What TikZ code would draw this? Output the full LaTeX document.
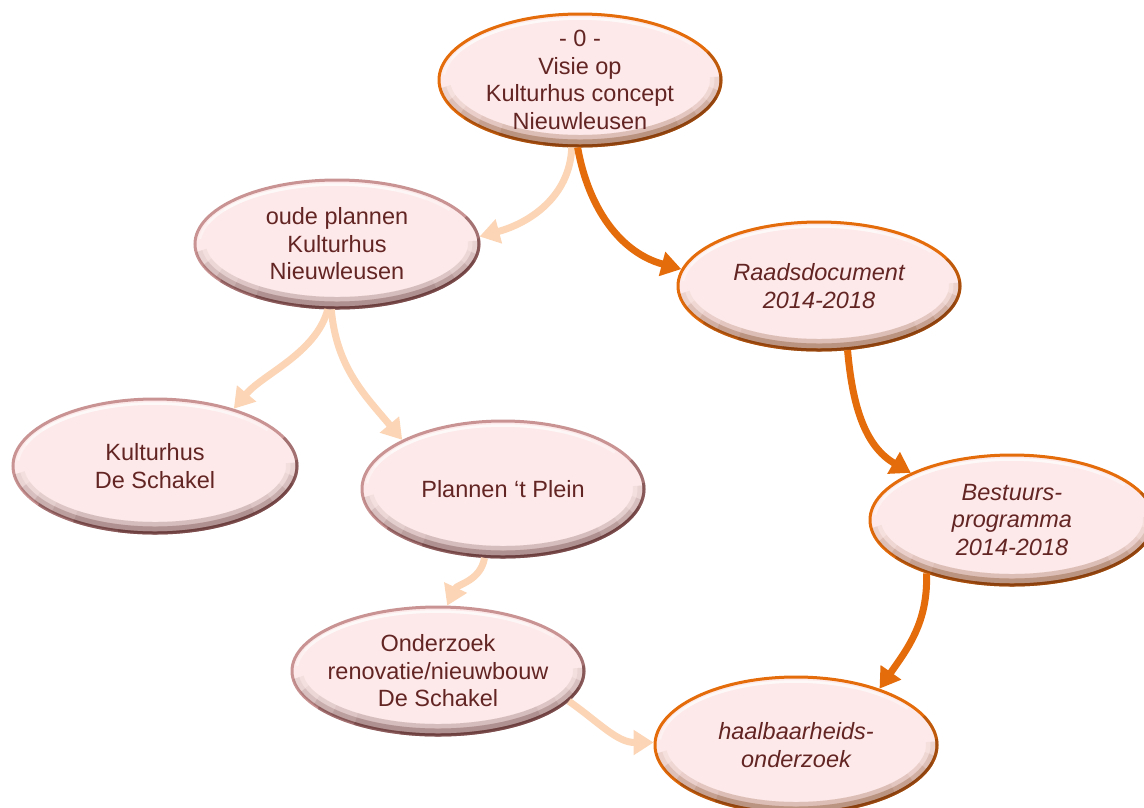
\documentclass[tikz,border=0pt]{standalone}
\usepackage{fontspec}
\setmainfont{Liberation Sans}
\usetikzlibrary{arrows.meta,shapes.geometric}

\definecolor{bubblefill}{HTML}{FDE9E9}
\definecolor{txt}{HTML}{632523}
\definecolor{orangeline}{HTML}{E46C0A}
\definecolor{orangedark}{HTML}{7A3A12}
\definecolor{roseline}{HTML}{C99393}
\definecolor{rosedark}{HTML}{5E3232}
\definecolor{peach}{HTML}{FBD5B5}

\tikzset{
  bubble/.style={ellipse, fill=bubblefill, line width=3pt, inner sep=0pt},
  label text/.style={text=txt, align=center, inner sep=0pt,
    font=\fontsize{23.5}{27.5}\selectfont},
  slanted/.style={font=\fontsize{23.5}{27.5}\selectfont\itshape},
  strong/.style={draw=orangeline, line width=7pt, -{Triangle[width=24pt,length=20pt]}},
  soft/.style={draw=peach, line width=7pt, -{Triangle[width=24pt,length=20pt]}},
}

% name, x, y, x radius, y radius, rim colour, dark rim colour, text options, text
\newcommand\drawbubble[9]{%
  \node[bubble, draw=#6, minimum width={2*#4pt}, minimum height={2*#5pt}]
    (#1) at (#2,#3) {};
  \pgfmathsetmacro\rxa{#4-4.5}\pgfmathsetmacro\rya{#5-4.5}%
  \pgfmathsetmacro\rxb{#4-2}\pgfmathsetmacro\ryb{#5-2}%
  \begin{scope}
    \clip (#1.center) ellipse[x radius=#4pt, y radius=#5pt];
    % inner shadow along the lower rim, built up from overlapping arcs
    \foreach \s in {88,76,64,52,40} {
      \draw[#7, opacity=.07, line width=9pt] (#1.center) ++(275-\s:\rxb pt and \ryb pt)
        arc[start angle=275-\s, end angle=275+\s, x radius=\rxb pt, y radius=\ryb pt];
      \draw[#7, opacity=.05, line width=18pt] (#1.center) ++(275-\s:\rxb pt and \ryb pt)
        arc[start angle=275-\s, end angle=275+\s, x radius=\rxb pt, y radius=\ryb pt];
    }
  \end{scope}
  % white highlight along the upper rim
  \foreach \s in {70,55,40} {
    \draw[white, opacity=.4, line width=2.5pt] (#1.center) ++(105-\s:\rxa pt and \rya pt)
      arc[start angle=105-\s, end angle=105+\s, x radius=\rxa pt, y radius=\rya pt];
  }
  % darker outer rim towards the lower right
  \foreach \s in {85,65,45} {
    \draw[#7, opacity=.35, line width=3pt] (#1.center) ++(300-\s:#4pt and #5pt)
      arc[start angle=300-\s, end angle=300+\s, x radius=#4pt, y radius=#5pt];
  }
  \node[label text, #8] (#1-text) at (#1.center) {#9};
}

\begin{document}
\begin{tikzpicture}[x=1pt, y=-1pt]
  \useasboundingbox (0,0) rectangle (1144,807);

  \drawbubble{n0}{580}{80}{141}{66}{orangeline}{orangedark}{}%
    {- 0 -\\Visie op\\Kulturhus concept\\Nieuwleusen}
  \drawbubble{oude}{337}{244}{142}{64}{roseline}{rosedark}{}%
    {oude plannen\\Kulturhus\\Nieuwleusen}
  \drawbubble{raads}{819}{286}{141}{64}{orangeline}{orangedark}{slanted}%
    {Raadsdocument\\2014-2018}
  \drawbubble{kult}{155}{466}{142}{67}{roseline}{rosedark}{}%
    {Kulturhus\\De Schakel}
  \drawbubble{plein}{503}{489}{141}{68}{roseline}{rosedark}{}%
    {Plannen ‘t Plein}
  \drawbubble{bestuur}{1012}{520}{142}{65}{orangeline}{orangedark}{slanted}%
    {Bestuurs-\\programma\\2014-2018}
  \drawbubble{onder}{438}{671}{146}{64}{roseline}{rosedark}{}%
    {Onderzoek\\renovatie/nieuwbouw\\De Schakel}
  \drawbubble{haal}{796}{745}{141}{68}{orangeline}{orangedark}{slanted}%
    {haalbaarheids-\\onderzoek}

  % connectors
  \draw[soft]   (n0.263)     to[out=-92, in=15]  (oude.3);
  \draw[strong] (n0.268)     to[out=-80, in=165] (raads.173);
  \draw[soft]   (oude.262)   to[out=-105, in=50, looseness=0.85] (kult.36);
  \draw[soft]   (oude.265)   to[out=-85, in=130] (plein.154);
  \draw[soft]   (plein.255)  to[out=-100, in=65] (onder.82);
  \draw[soft]   (onder.347)  to[out=-35, in=180] (haal.179);
  \draw[strong] (raads.294)  to[out=-85, in=150] (bestuur.155);
  \draw[strong] (bestuur.212) to[out=-88, in=55] (haal.34);
\end{tikzpicture}
\end{document}
